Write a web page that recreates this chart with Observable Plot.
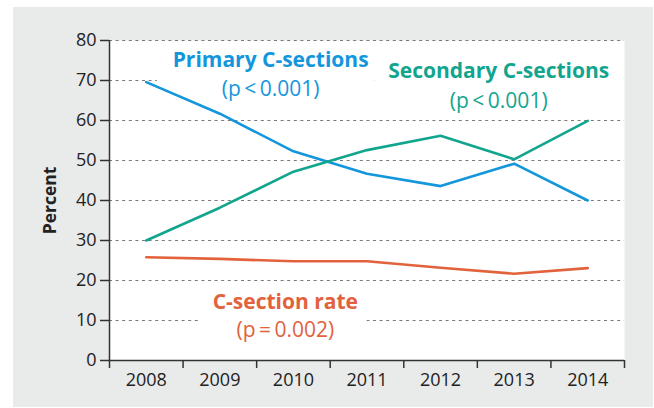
<!DOCTYPE html>
<html>
<head>
<meta charset="utf-8">
<script src="https://cdn.jsdelivr.net/npm/d3@7"></script>
<script src="https://cdn.jsdelivr.net/npm/@observablehq/plot@0.6"></script>
<style>
  html, body { margin: 0; padding: 0; background: #ffffff; }
  #wrap { position: relative; width: 654px; height: 408px; }
  #panel { position: absolute; left: 13px; top: 7px; width: 640px; height: 400px; background: #e9eaea; }
  #chart { position: absolute; left: 0; top: 0; }
  #chart svg { background: transparent; }
</style>
</head>
<body>
<div id="wrap"><div id="panel"></div><div id="chart"></div></div>
<script>
const years = [2008, 2009, 2010, 2011, 2012, 2013, 2014];
const primary = [69.6, 61.7, 52.3, 46.7, 43.6, 49.2, 40.0];
const secondary = [30.0, 38.2, 47.2, 52.6, 56.2, 50.3, 59.9];
const rate = [25.8, 25.4, 24.8, 24.8, 23.2, 21.7, 23.1];
const yTicks = [0, 10, 20, 30, 40, 50, 60, 70, 80];

const seriesNames = ["Primary C-sections", "Secondary C-sections", "C-section rate"];
const seriesValues = [primary, secondary, rate];
const seriesColors = ["#1496dc", "#12a58e", "#e2623c"];
const pLabels = ["(p\u2009<\u20090.001)", "(p\u2009<\u20090.001)", "(p\u2009=\u20090.002)"];
// annotation anchors in data units (year, percent)
const labelYear = [2009.69, 2012.79, 2009.89];
const labelTitleY = [75, 72.2, 14.5];
const labelPY = [67.8, 64.8, 7.5];
// white label boxes behind the annotations (data units)
const boxYear1 = [2008.15, 2011.11, 2008.75];
const boxYear2 = [2011.11, 2014.5, 2011.0];
const boxTop = [78.5, 77.5, 18.5];
const boxBottom = [63.5, 60.0, 4.0];

const rows = seriesNames.flatMap((s, i) => years.map((y, j) => ({series: s, year: y, value: seriesValues[i][j]})));
const labels = seriesNames.map((s, i) => ({series: s, p: pLabels[i], x: labelYear[i], y1: labelTitleY[i], y2: labelPY[i],
  bx1: boxYear1[i], bx2: boxYear2[i], by1: boxBottom[i], by2: boxTop[i]}));
const bounds = d3.range(years[0] - 0.5, years[years.length - 1] + 1, 1);

const font = "'Open Sans', sans-serif";
const axisColor = "#333333";

const chart = Plot.plot({
  width: 654,
  height: 408,
  marginLeft: 109,
  marginRight: 30,
  marginTop: 40,
  marginBottom: 48,
  style: {fontFamily: font, background: "transparent"},
  x: {domain: [bounds[0], bounds[bounds.length - 1]]},
  y: {domain: [0, 80]},
  color: {domain: seriesNames, range: seriesColors},
  marks: [
    Plot.frame({fill: "white", stroke: null}),
    Plot.gridY(yTicks.slice(1), {stroke: "#7a7a7a", strokeOpacity: 1, strokeDasharray: "3,3.6", strokeWidth: 1}),
    Plot.rect(labels, {x1: "bx1", x2: "bx2", y1: "by1", y2: "by2", fill: "white"}),
    Plot.text(labels, {x: "x", y: "y1", text: "series", fill: "series", fontSize: 21, fontWeight: "bold"}),
    Plot.text(labels, {x: "x", y: "y2", text: "p", fill: "series", fontSize: 21}),
    Plot.line(rows, {x: "year", y: "value", z: "series", stroke: "series", strokeWidth: 2.6}),
    Plot.axisY(yTicks, {tickSize: 9, tickPadding: 4, fontSize: 18, fill: "#222", stroke: axisColor, strokeWidth: 1.5, label: null}),
    Plot.axisX(bounds, {tickSize: 8, tickFormat: () => "", stroke: axisColor, strokeWidth: 1.5, label: null}),
    Plot.axisX(years, {tickSize: 0, tickPadding: 13, tickFormat: d => String(d), fontSize: 18, fill: "#222", label: null}),
    Plot.ruleX([bounds[0]], {stroke: axisColor, strokeWidth: 1.5}),
    Plot.ruleY([0], {stroke: axisColor, strokeWidth: 1.5}),
    Plot.text(["Percent"], {frameAnchor: "left", textAnchor: "middle", dx: -59, rotate: -90, fontSize: 17.5, fontWeight: "bold", fill: "#222"})
  ]
});
document.getElementById("chart").appendChild(chart);
</script>
</body>
</html>
